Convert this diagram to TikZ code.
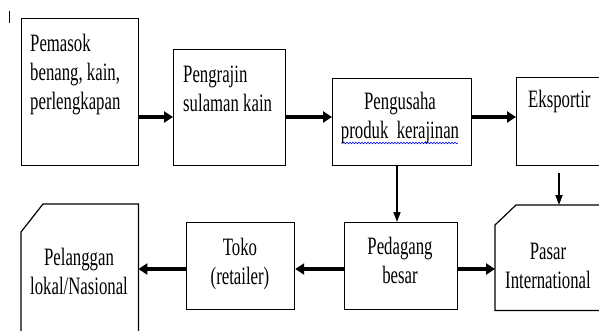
\documentclass[tikz,border=0pt]{standalone}
\usepackage{fontspec}
\setmainfont{Liberation Serif}[FakeStretch=0.67]
\usetikzlibrary{arrows.meta,decorations.pathmorphing}

\tikzset{
	box/.style={draw, line width=1.2pt, rectangle, anchor=north west, inner sep=0},
	shell/.style={rectangle, anchor=north west, inner sep=0},
	outline/.style={line width=1.2pt, line join=miter},
	txt/.style={font=\fontsize{25}{29}\selectfont, inner sep=0},
	flow/.style={line width=3.2pt, -{Triangle[length=9pt,width=11pt]}},
	down/.style={line width=1.6pt, -{Triangle[length=10pt,width=7pt]}}
}

\begin{document}
\begin{tikzpicture}[x=1pt,y=-1pt]
	\clip (0,0) rectangle (599,331);
	
	%CURSOR MARK
	\draw[line width=0.8pt] (9,11)--(9,23);
	
	%TOP ROW
	\node[box, minimum width=117, minimum height=147] (pemasok) at (21,18) {};
	\node[box, minimum width=112, minimum height=116] (pengrajin) at (173,49) {};
	\node[box, minimum width=139, minimum height=87] (pengusaha) at (332,78) {};
	\node[box, minimum width=92, minimum height=88] (eksportir) at (516,77) {};
	%
	\node[txt, anchor=base west, align=left] (pemasokL) at (30,110) {Pemasok\\benang, kain,\\perlengkapan};
	\node[txt, anchor=base west, align=left] (pengrajinL) at (183,112) {Pengrajin\\sulaman kain};
	\node[txt, anchor=base, align=center] (pengusahaL) at (400,139) {Pengusaha\\produk~ kerajinan};
	\node[txt, anchor=base west] (eksportirL) at (528,108) {Eksportir};
	\draw[blue, line width=0.6pt, decorate, decoration={snake, amplitude=0.8pt, segment length=3pt}] (343,143)--(458,143);
	
	%BOTTOM ROW
	\node[shell, minimum width=117, minimum height=140] (pelanggan) at (21,204) {};
	\draw[outline] ([yshift=-28]pelanggan.north west)--([xshift=22]pelanggan.north west)--(pelanggan.north east)--(pelanggan.south east)--(pelanggan.south west)--cycle;
	\node[box, minimum width=108, minimum height=87] (toko) at (186,222) {};
	\node[box, minimum width=113, minimum height=87] (pedagang) at (344,222) {};
	\node[shell, minimum width=112, minimum height=105] (pasar) at (495,205) {};
	\draw[outline] ([yshift=-20]pasar.north west)--([xshift=21]pasar.north west)--(pasar.north east)--(pasar.south east)--(pasar.south west)--cycle;
	%
	\node[txt, anchor=base, align=center] (pelangganL) at (79,294) {Pelanggan\\lokal/Nasional};
	\node[txt, anchor=base, align=center] (tokoL) at (240,284) {Toko\\(retailer)};
	\node[txt, anchor=base, align=center] (pedagangL) at (400,283) {Pedagang\\besar};
	\node[txt, anchor=base, align=center] (pasarL) at (548,288) {Pasar\\International};
	
	%ARROWS
	\coordinate (rowA) at (0,117);
	\coordinate (rowB) at (0,269);
	\coordinate (colA) at (397,0);
	\coordinate (colB) at (559,0);
	\draw[flow] (pemasok.east |- rowA)--(pengrajin.west |- rowA);
	\draw[flow] (pengrajin.east |- rowA)--(pengusaha.west |- rowA);
	\draw[flow] (pengusaha.east |- rowA)--(eksportir.west |- rowA);
	\draw[down] (pengusaha.south -| colA)--(pedagang.north -| colA);
	\draw[down] ([yshift=-7]eksportir.south -| colB)--(pasar.north -| colB);
	\draw[flow] (pedagang.west |- rowB)--(toko.east |- rowB);
	\draw[flow] (toko.west |- rowB)--(pelanggan.east |- rowB);
	\draw[flow] (pedagang.east |- rowB)--(pasar.west |- rowB);
\end{tikzpicture}
\end{document}
